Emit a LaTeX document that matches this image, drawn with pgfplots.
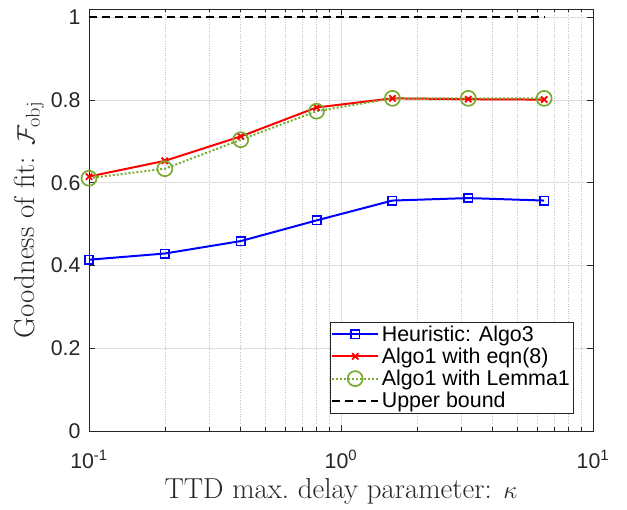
\documentclass[border=0pt]{standalone}
\usepackage{pgfplots}
\pgfplotsset{compat=1.18}
\usepackage{fontspec}
\newfontfamily\arial{Liberation Sans}
\definecolor{mgreen}{RGB}{119,172,48}
\definecolor{mgrid}{RGB}{222,222,222}
\definecolor{mtext}{RGB}{38,38,38}
\begin{document}
\begin{tikzpicture}
\begin{axis}[
  width=504bp, height=422bp, scale only axis,
  xmode=log, xmin=0.1, xmax=10, ymin=0, ymax=1.02,
  xtick={0.1,1,10},
  xticklabels={10\textsuperscript{-1},10\textsuperscript{0},10\textsuperscript{1}},
  ytick={0,0.2,0.4,0.6,0.8,1},
  yticklabels={0,0.2,0.4,0.6,0.8,1},
  tick label style={font=\arial\fontsize{21.4}{25}\selectfont, text=mtext},
  xticklabel style={yshift=-16bp},
  yticklabel style={xshift=-5bp},
  minor xtick={0.2,0.3,0.4,0.5,0.6,0.7,0.8,0.9,2,3,4,5,6,7,8,9},
  tick align=inside, tick pos=both,
  major tick length=6bp, minor tick length=3.5bp,
  grid=both,
  major grid style={mgrid, line width=0.6pt},
  minor grid style={black!25, dotted, line width=0.5pt},
  axis line style={mtext, line width=0.7pt},
  every tick/.style={mtext, line width=0.6pt},
  xlabel={TTD max.\ delay parameter: $\kappa$},
  ylabel={Goodness of fit: $\mathcal{F}_{\mathrm{obj}}$},
  label style={font=\fontsize{29}{32}\selectfont, text=mtext},
  xlabel style={yshift=-3bp},
  legend style={at={(0.962,0.042)}, anchor=south east, font=\arial\fontsize{21.5}{24}\selectfont,
    draw=mtext, line width=0.7pt, inner sep=1bp, row sep=0bp, cells={anchor=west},
    nodes={inner sep=2.6bp}},
  legend image code/.code={
    \draw[mark repeat=2,mark phase=2] plot coordinates {(0bp,0bp) (23bp,0bp) (46bp,0bp)};},
]
\addplot[blue, line width=2pt, mark=square, mark size=4.2bp, mark options={solid, line width=1.6pt}]
coordinates {(0.1,0.414) (0.2,0.429) (0.4,0.459) (0.8,0.509) (1.6,0.557) (3.2,0.563) (6.4,0.557)};
\addlegendentry{Heuristic: Algo3}
\addplot[red, line width=2pt, mark=x, mark size=4.4bp, mark options={solid, line width=1.8pt}]
coordinates {(0.1,0.615) (0.2,0.653) (0.4,0.712) (0.8,0.782) (1.6,0.804) (3.2,0.802) (6.4,0.801)};
\addlegendentry{Algo1 with eqn(8)}
\addplot[mgreen, line width=2pt, dotted, mark=o, mark size=7.5bp, mark options={solid, line width=1.7pt}]
coordinates {(0.1,0.611) (0.2,0.634) (0.4,0.704) (0.8,0.773) (1.6,0.804) (3.2,0.804) (6.4,0.804)};
\addlegendentry{Algo1 with Lemma1}
\addplot[black, line width=2pt, dash pattern=on 8bp off 5bp]
coordinates {(0.1,1) (6.4,1)};
\addlegendentry{Upper bound}
\end{axis}
\pgfresetboundingbox
\path[use as bounding box] ([xshift=-89bp,yshift=-79bp]current axis.south west) rectangle ([xshift=34bp,yshift=9bp]current axis.north east);
\end{tikzpicture}
\end{document}
